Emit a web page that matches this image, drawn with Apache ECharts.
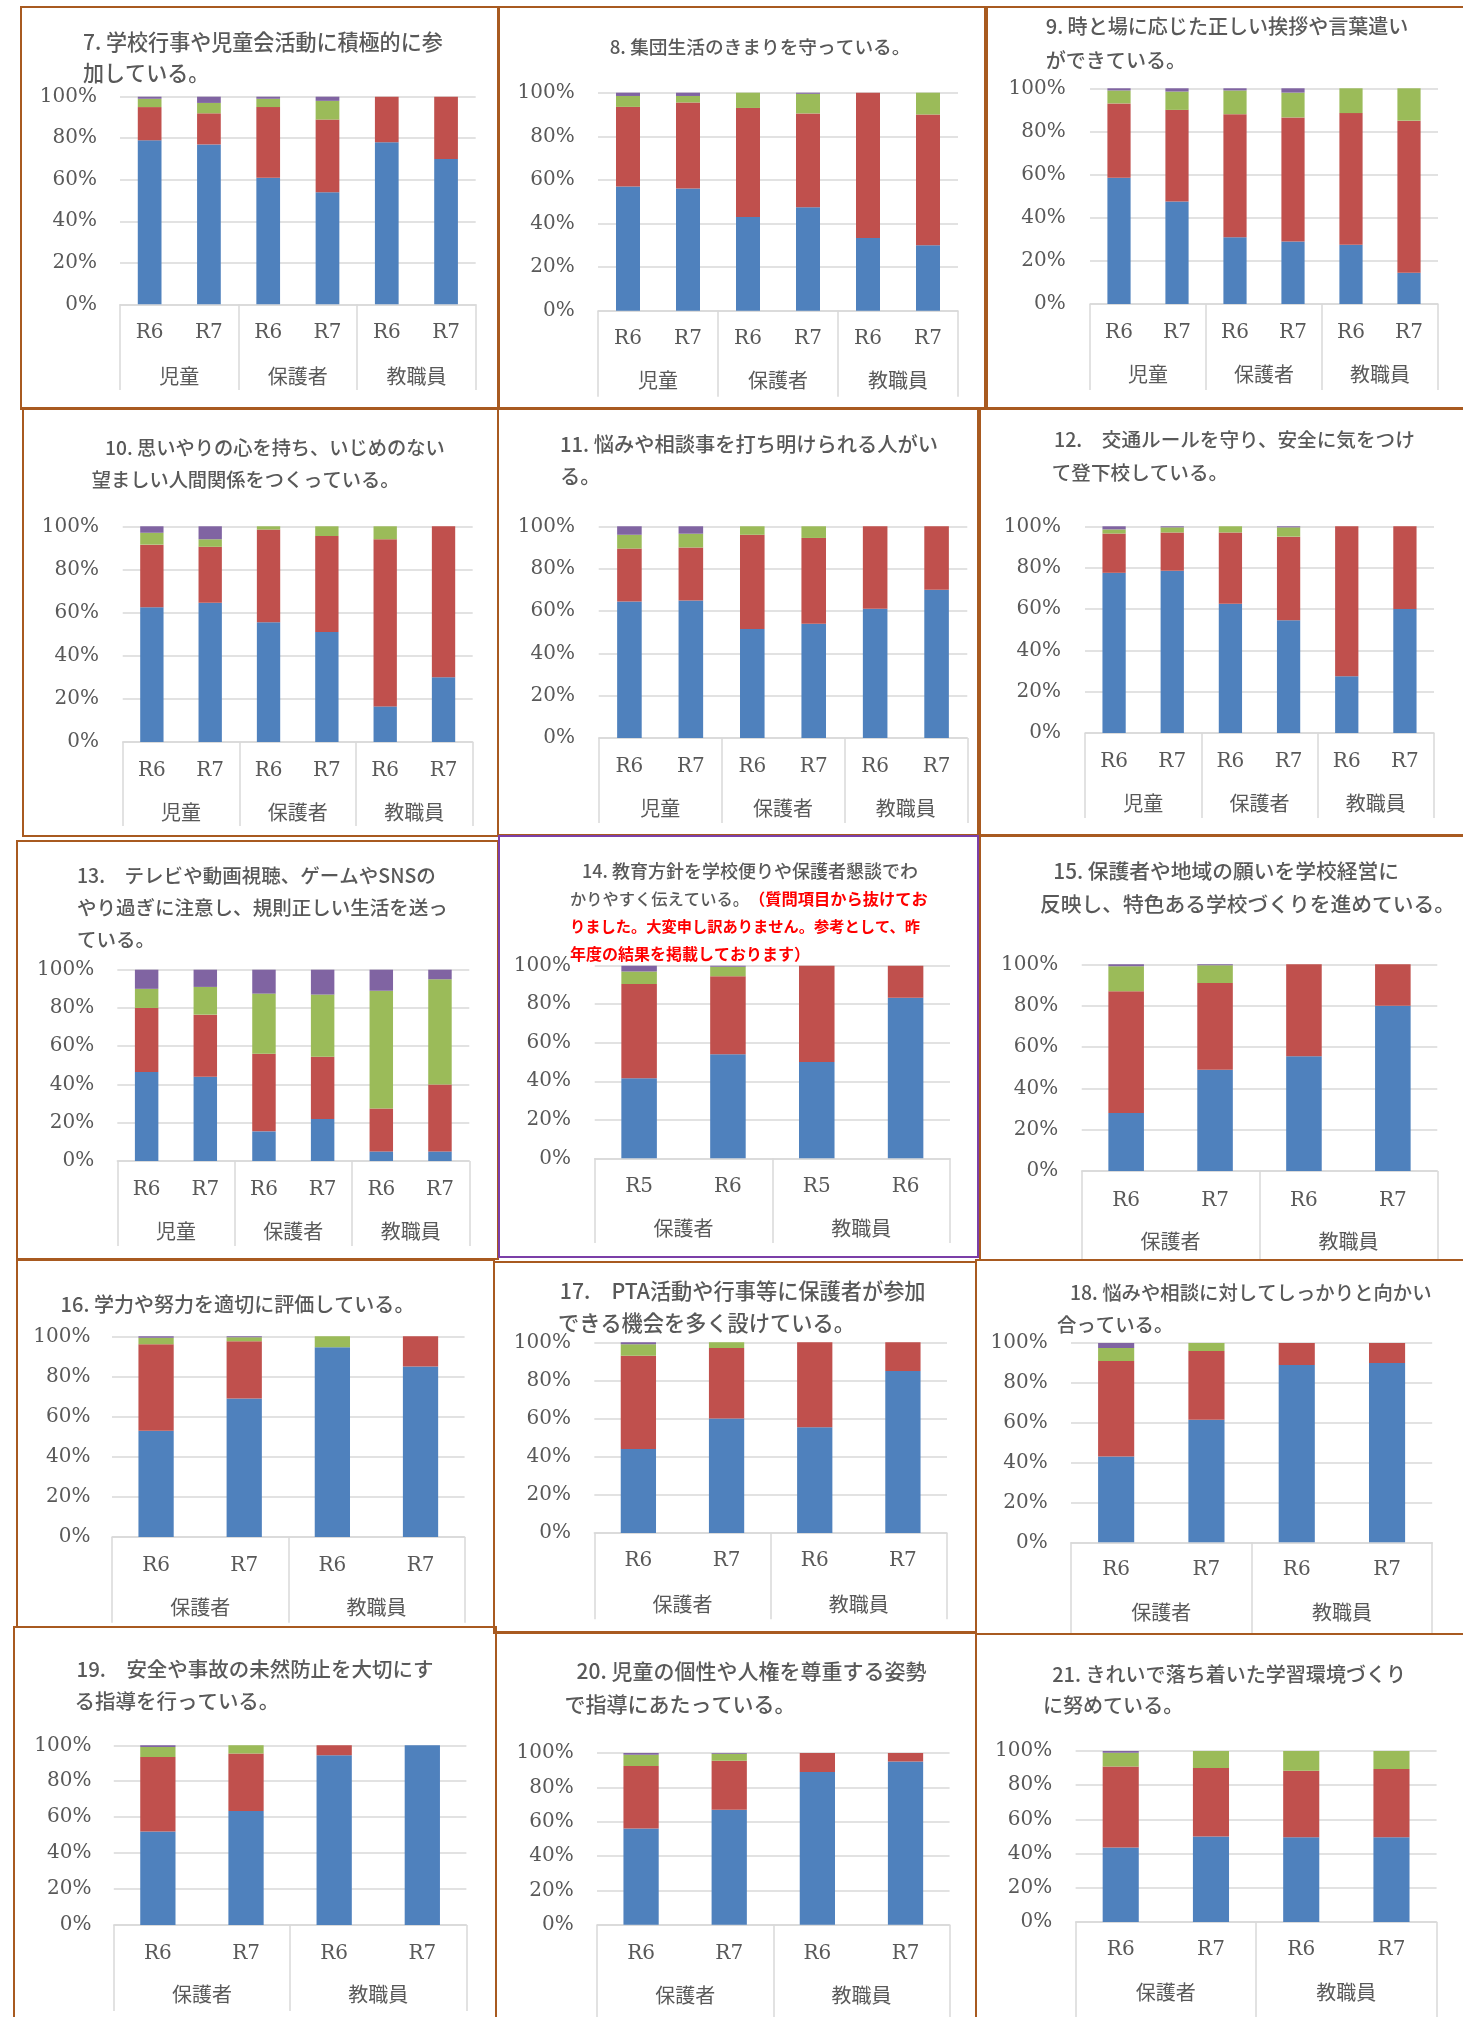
<!DOCTYPE html>
<html>
<head>
<meta charset="utf-8">
<title>学校評価アンケート結果</title>
<script src="https://cdn.jsdelivr.net/npm/echarts@6/dist/echarts.min.js"></script>
<style>
  html, body { margin: 0; padding: 0; background: #ffffff; }
  #chart { width: 1463px; height: 2017px; }
</style>
</head>
<body>
<div id="chart"></div>
<script>
// ---- categories ----
const years67 = ['R6', 'R7'];
const years56 = ['R5', 'R6'];
const groups3 = ['児童', '保護者', '教職員'];
const groups2 = ['保護者', '教職員'];
const seriesNames = ['よくできている', 'だいたいできている', 'あまりできていない', 'できていない'];

// ---- values (%), rows: blue / red / green / purple ----
const q07 = [[79, 77, 61, 54, 78, 70], [16, 15, 34, 35, 22, 30], [4, 5, 4, 9, 0, 0], [1, 3, 1, 2, 0, 0]];
const q08 = [[57, 56, 43, 47.5, 33.3, 30], [36.5, 39.5, 50, 43, 66.7, 60], [5, 3, 7, 9, 0, 10], [1.5, 1.5, 0, 0.5, 0, 0]];
const q09 = [[58.5, 47.5, 31, 29, 27.5, 14.5], [34.5, 42.5, 57, 57.5, 61, 70.5], [6, 8.5, 11, 11.5, 11.5, 15], [1, 1.5, 1, 2, 0, 0]];
const q10 = [[62.5, 64.5, 55.5, 51, 16.5, 30], [29, 26, 43, 44.5, 77.5, 70], [5.5, 3.5, 1.5, 4.5, 6, 0], [3, 6, 0, 0, 0, 0]];
const q11 = [[64.5, 65, 51.5, 54, 61, 70], [25, 25, 44.5, 40.5, 39, 30], [6.5, 6.5, 4, 5.5, 0, 0], [4, 3.5, 0, 0, 0, 0]];
const q12 = [[77.5, 78.5, 62.5, 54.5, 27.5, 60], [19, 18.5, 34.5, 40.5, 72.5, 40], [2, 2.5, 3, 4.5, 0, 0], [1.5, 0.5, 0, 0.5, 0, 0]];
const q13 = [[46.5, 44, 15.5, 22, 5, 5], [33.5, 32.5, 40.5, 32.5, 22.5, 35], [10, 14.5, 31.5, 32.5, 61.5, 55], [10, 9, 12.5, 13, 11, 5]];
const q14 = [[41.5, 54, 50, 83.3], [49, 40.5, 50, 16.7], [6.5, 5, 0, 0], [3, 0.5, 0, 0]];
const q15 = [[28, 49, 55.5, 80], [59, 42, 44.5, 20], [12, 8.5, 0, 0], [1, 0.5, 0, 0]];
const q16 = [[53, 69, 94.5, 85], [43, 28.5, 0, 15], [3.3, 2, 5.5, 0], [0.7, 0.5, 0, 0]];
const q17 = [[44, 60, 55.5, 85], [49, 37, 44.5, 15], [6, 3, 0, 0], [1, 0, 0, 0]];
const q18 = [[43, 61.5, 89, 90], [48, 34.5, 11, 10], [6.5, 4, 0, 0], [2.5, 0, 0, 0]];
const q19 = [[52, 63.5, 94.5, 100], [41.5, 32, 5.5, 0], [5.5, 4.5, 0, 0], [1, 0, 0, 0]];
const q20 = [[56, 67, 89, 95], [36.5, 28.5, 11, 5], [6.5, 4, 0, 0], [1, 0.5, 0, 0]];
const q21 = [[43.5, 50, 49.5, 49.5], [47.5, 40, 39, 40], [8, 10, 11.5, 10.5], [1, 0, 0, 0]];

// ---- question titles ({r|...} marks red text) ----
const t07 = ['7. 学校行事や児童会活動に積極的に参', '加している。'];
const t08 = ['8. 集団生活のきまりを守っている。'];
const t09 = ['9. 時と場に応じた正しい挨拶や言葉遣い', 'ができている。'];
const t10 = ['10. 思いやりの心を持ち、いじめのない', '望ましい人間関係をつくっている。'];
const t11 = ['11. 悩みや相談事を打ち明けられる人がい', 'る。'];
const t12 = ['12.　交通ルールを守り、安全に気をつけ', 'て登下校している。'];
const t13 = ['13.　テレビや動画視聴、ゲームやSNSの', 'やり過ぎに注意し、規則正しい生活を送っ', 'ている。'];
const t14 = ['14. 教育方針を学校便りや保護者懇談でわ', 'かりやすく伝えている。{r|（質問項目から抜けてお}',
             '{r|りました。大変申し訳ありません。参考として、昨}', '{r|年度の結果を掲載しております）}'];
const t15 = ['15. 保護者や地域の願いを学校経営に', '反映し、特色ある学校づくりを進めている。'];
const t16 = ['16. 学力や努力を適切に評価している。'];
const t17 = ['17.　PTA活動や行事等に保護者が参加', 'できる機会を多く設けている。'];
const t18 = ['18. 悩みや相談に対してしっかりと向かい', '合っている。'];
const t19 = ['19.　安全や事故の未然防止を大切にす', 'る指導を行っている。'];
const t20 = ['20. 児童の個性や人権を尊重する姿勢', 'で指導にあたっている。'];
const t21 = ['21. きれいで落ち着いた学習環境づくり', 'に努めている。'];

// ---- styling ----
const COLORS = ['#4F81BD', '#C0504D', '#9BBB59', '#8064A2'];
const FRAME = '#A85A20';
const FRAME14 = '#7B3FA8';
const GRID_LINE = '#D9D9D9';
const TEXT = '#595959';
const FONT_JP = 'Noto Sans CJK JP';
const FONT_NUM = 'DejaVu Serif';
const TITLE_WEIGHT = 500;

// ---- page layout of each panel (pixels) ----
// frame: [x1,y1,x2,y2], plot: [left,top,right,bottom], yLab: right edge of y labels,
// rowY / grpY: centre of the two label rows, boxB: bottom of the category box,
// lines: [x, centreY] of each title line, fitW: width the first title line spans
// (or one width per line when given as a list)
const panels = [
  { q: q07, title: t07, years: years67, groups: groups3, frame: [21, 7, 498, 409], plot: [120, 96.7, 475.7, 304.3], yLab: 97, rowY: 333, grpY: 376, boxB: 390, lines: [[83, 42], [83, 73]], fitW: 360 },
  { q: q08, title: t08, years: years67, groups: groups3, frame: [499, 7, 985, 409], plot: [598, 92.7, 958, 310.7], yLab: 574.7, rowY: 339, grpY: 380, boxB: 396.7, lines: [[609.7, 46.7]], fitW: 301 },
  { q: q09, title: t09, years: years67, groups: groups3, frame: [987, 7, 1480, 409], plot: [1090, 88.3, 1438, 304], yLab: 1065.7, rowY: 332.7, grpY: 374, boxB: 390, lines: [[1045.7, 26.7], [1045.7, 60]], fitW: 363 },
  { q: q10, title: t10, years: years67, groups: groups3, frame: [23, 408, 498, 836], plot: [122.7, 526.3, 472.7, 742], yLab: 99, rowY: 770.7, grpY: 812.3, boxB: 826, lines: [[105, 448], [91.7, 479.7]], fitW: 340 },
  { q: q11, title: t11, years: years67, groups: groups3, frame: [498, 408, 978, 835], plot: [598.7, 526.3, 967.3, 738], yLab: 575, rowY: 767, grpY: 808, boxB: 823, lines: [[560, 444.7], [560, 476.3]], fitW: 378 },
  { q: q12, title: t12, years: years67, groups: groups3, frame: [980, 408, 1480, 835], plot: [1085, 526.3, 1434, 733], yLab: 1061, rowY: 761.3, grpY: 803, boxB: 818, lines: [[1054, 439.7], [1051.7, 473]], fitW: 361 },
  { q: q13, title: t13, years: years67, groups: groups3, frame: [17, 841, 498, 1259], plot: [117.3, 969.7, 469.3, 1161], yLab: 94.3, rowY: 1189.3, grpY: 1231, boxB: 1246, lines: [[77, 876], [77, 907.7], [77, 939.3]], fitW: 359 },
  { q: q14, title: t14, years: years56, groups: groups2, frame: [499, 836, 978, 1257], plot: [594.7, 965.7, 950, 1158.3], yLab: 571, rowY: 1187, grpY: 1228.7, boxB: 1243, lines: [[582, 871], [570, 899.3], [570, 926.7], [570, 954.3]], fitW: [336, 350, 350, 240], purple: true },
  { q: q15, title: t15, years: years67, groups: groups2, frame: [980, 836, 1480, 1260], plot: [1081.7, 964.3, 1437.3, 1171], yLab: 1058.3, rowY: 1201, grpY: 1241, boxB: 1260, lines: [[1053.3, 871], [1040, 904.3]], fitW: 346 },
  { q: q16, title: t16, years: years67, groups: groups2, frame: [17, 1260, 494, 1627], plot: [112, 1336.3, 464.6, 1537], yLab: 90.5, rowY: 1566, grpY: 1607.7, boxB: 1622.7, lines: [[60.6, 1304.3]], fitW: 354 },
  { q: q17, title: t17, years: years67, groups: groups2, frame: [494, 1262, 976, 1633], plot: [594.3, 1342.3, 947, 1533], yLab: 571, rowY: 1561, grpY: 1604.3, boxB: 1619.3, lines: [[559.8, 1291], [558, 1322.7]], fitW: 366 },
  { q: q18, title: t18, years: years67, groups: groups2, frame: [976, 1260, 1480, 1634], plot: [1071, 1343, 1432.2, 1542.3], yLab: 1047.8, rowY: 1570, grpY: 1612.7, boxB: 1634, lines: [[1070, 1292.7], [1057, 1324.3]], fitW: 362 },
  { q: q19, title: t19, years: years67, groups: groups2, frame: [14, 1627, 496, 2040], plot: [113.8, 1745.3, 466.4, 1925], yLab: 91.4, rowY: 1954, grpY: 1994.7, boxB: 2011, lines: [[76.5, 1669], [74.6, 1701.3]], fitW: 357 },
  { q: q20, title: t20, years: years67, groups: groups2, frame: [496, 1632, 976, 2040], plot: [597, 1753, 949.6, 1924.7], yLab: 573.7, rowY: 1954, grpY: 1995.7, boxB: 2017, lines: [[576.5, 1670.7], [564.4, 1704]], fitW: 350 },
  { q: q21, title: t21, years: years67, groups: groups2, frame: [976, 1634, 1480, 2040], plot: [1075.6, 1751, 1436.6, 1922], yLab: 1052.2, rowY: 1950, grpY: 1992.3, boxB: 2017, lines: [[1052.2, 1674], [1043, 1705.7]], fitW: 354 }
];

// font size that makes a title line span the given width
const measureCtx = document.createElement('canvas').getContext('2d');
function fitFont(text, width, weight) {
  measureCtx.font = weight + ' 100px "Noto Sans CJK JP"';
  const plain = text.replace(/\{r\|([^}]*)\}/g, '$1');
  const w = measureCtx.measureText(plain).width;
  return Math.max(13, Math.min(23, 100 * width / w));
}

const grid = [], xAxis = [], yAxis = [], series = [], graphic = [];

panels.forEach((p, i) => {
  const [pl, pt, pr, pb] = p.plot;
  grid.push({ left: pl, top: pt, width: pr - pl, height: pb - pt, containLabel: false });

  // inner level: year labels under each bar
  const cats = [];
  p.groups.forEach(() => p.years.forEach(y => cats.push(y)));
  xAxis.push({
    type: 'category', gridIndex: i, position: 'bottom', data: cats,
    axisLine: { show: false }, axisTick: { show: false }, splitLine: { show: false },
    axisLabel: { interval: 0, margin: p.rowY - pb, verticalAlign: 'middle', color: TEXT, fontFamily: FONT_NUM, fontSize: 20 }
  });
  // outer level: respondent groups, with separators running through both rows
  xAxis.push({
    type: 'category', gridIndex: i, position: 'bottom', data: p.groups,
    axisLine: { show: true, lineStyle: { color: GRID_LINE, width: 1.5 } },
    axisTick: { show: true, length: p.boxB - pb, lineStyle: { color: GRID_LINE, width: 1.5 } },
    splitLine: { show: false },
    axisLabel: { interval: 0, margin: p.grpY - pb, verticalAlign: 'middle', color: TEXT, fontFamily: FONT_JP, fontSize: 20 }
  });
  yAxis.push({
    type: 'value', gridIndex: i, min: 0, max: 100, interval: 20,
    axisLine: { show: false }, axisTick: { show: false },
    splitLine: { lineStyle: { color: GRID_LINE, width: 1.5 } },
    axisLabel: { formatter: '{value}%', margin: pl - p.yLab, color: TEXT, fontFamily: FONT_NUM, fontSize: 20 }
  });

  p.q.forEach((vals, k) => {
    series.push({
      type: 'bar', name: seriesNames[k], xAxisIndex: 2 * i, yAxisIndex: i, stack: 'q' + i,
      data: vals, barWidth: '40%', itemStyle: { color: COLORS[k] }, silent: true
    });
  });

  const [fx1, fy1, fx2, fy2] = p.frame;
  graphic.push({
    type: 'rect', shape: { x: fx1, y: fy1, width: fx2 - fx1, height: fy2 - fy1 },
    style: { fill: 'none', stroke: p.purple ? FRAME14 : FRAME, lineWidth: 2 }, silent: true, z: 10
  });

  const baseFs = fitFont(p.title[0], Array.isArray(p.fitW) ? p.fitW[0] : p.fitW, TITLE_WEIGHT);
  p.title.forEach((line, li) => {
    const fs = Array.isArray(p.fitW) ? fitFont(line, p.fitW[li], li > 0 ? 'bold' : TITLE_WEIGHT) : baseFs;
    graphic.push({
      type: 'text', x: p.lines[li][0], y: p.lines[li][1], silent: true, z: 10,
      style: {
        text: line, fill: TEXT, fontFamily: FONT_JP, fontSize: fs, fontWeight: TITLE_WEIGHT,
        align: 'left', verticalAlign: 'middle',
        rich: { r: { fill: '#FF0000', color: '#FF0000', fontFamily: FONT_JP, fontSize: fs, fontWeight: 'bold' } }
      }
    });
  });
});

const chart = echarts.init(document.getElementById('chart'), null, { renderer: 'canvas' });
chart.setOption({
  backgroundColor: '#ffffff',
  animation: false,
  grid, xAxis, yAxis, series, graphic
});
</script>
</body>
</html>
